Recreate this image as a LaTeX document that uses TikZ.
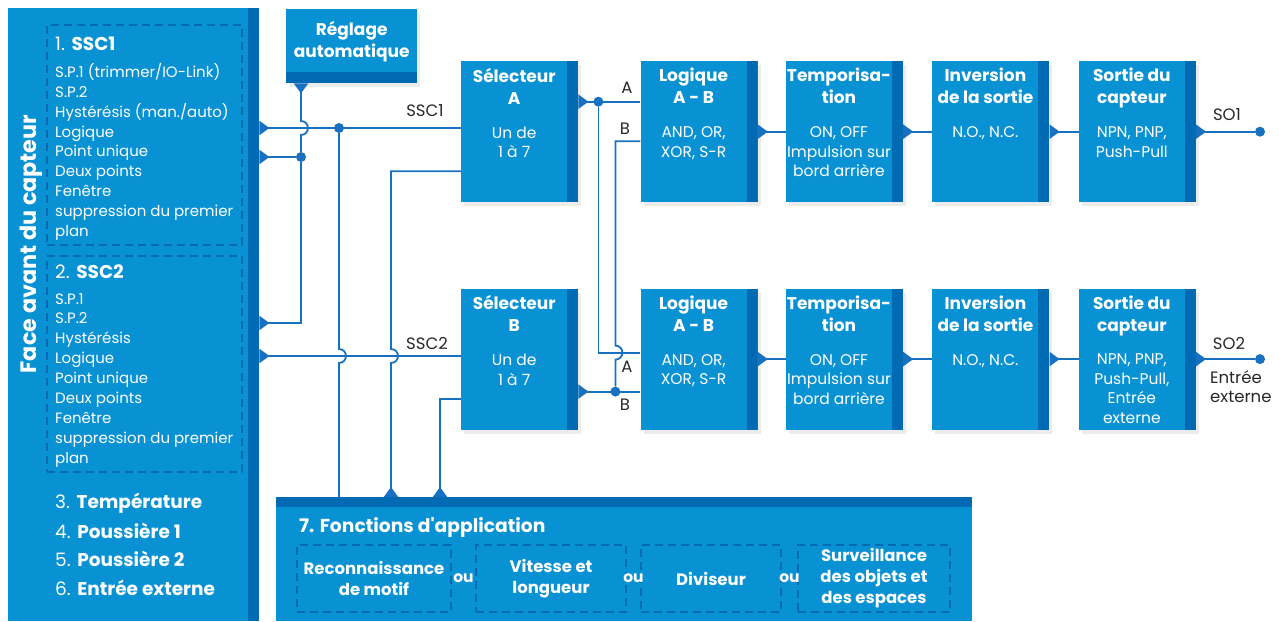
\documentclass[tikz,border=0pt]{standalone}
\usepackage{fontspec}
\setmainfont{Poppins}
\usetikzlibrary{
  arrows.meta,
  positioning,
  calc,
  shadows
}
\definecolor{capblue}{RGB}{8,146,211}
\definecolor{capdark}{RGB}{0,106,178}
\definecolor{capwire}{RGB}{24,113,192}
\definecolor{capink}{RGB}{40,40,40}
\tikzset{
  panel/.style={
    rectangle, fill=capblue, inner sep=0pt,
    path picture={\fill[capdark] ([xshift=-11pt]path picture bounding box.north east)
      rectangle (path picture bounding box.south east);}
  },
  fbox/.style={
    panel, minimum width=117pt, minimum height=141pt,
    drop shadow={opacity=0.15, shadow xshift=3pt, shadow yshift=-4pt}
  },
  regbox/.style={
    rectangle, fill=capblue, inner sep=0pt,
    drop shadow={opacity=0.15, shadow xshift=3pt, shadow yshift=-4pt},
    path picture={\fill[capdark] ([yshift=11pt]path picture bounding box.south west)
      rectangle (path picture bounding box.south east);}
  },
  appbox/.style={
    rectangle, fill=capblue, inner sep=0pt,
    path picture={\fill[capdark] (path picture bounding box.north west)
      rectangle ([yshift=-10pt]path picture bounding box.north east);}
  },
  ttl/.style={text=white, font=\fontsize{17}{22}\selectfont\bfseries,
    align=center, inner sep=0pt, anchor=north},
  txt/.style={text=white, font=\fontsize{15.5}{19.5}\selectfont,
    align=center, inner sep=0pt, anchor=north},
  lst/.style={text=white, font=\fontsize{15}{19.9}\selectfont,
    align=left, inner sep=0pt, anchor=north west},
  hdr/.style={text=white, font=\fontsize{18.5}{20}\selectfont,
    inner sep=0pt, anchor=west},
  grp/.style={draw=capdark, line width=1.6pt, dash pattern=on 8pt off 5pt,
    inner sep=0pt, outer sep=0pt, anchor=north west},
  fopt/.style={grp, anchor=center, minimum height=67pt, text=white,
    font=\fontsize{16.5}{21}\selectfont\bfseries, align=center},
  ou/.style={text=white, font=\fontsize{15.5}{18}\selectfont\bfseries, inner sep=0pt},
  lbl/.style={text=capink, font=\fontsize{16.5}{19.5}\selectfont, inner sep=0pt},
  wire/.style={draw=capwire, line width=1.8pt},
  feed/.style={wire, {Triangle[reversed, length=10pt, width=14pt]}-},
  dot/.style={circle, fill=capwire, minimum size=10pt, inner sep=0pt}
}

\begin{document}
\begin{tikzpicture}[x=1pt, y=-1pt]
  \useasboundingbox (0,0) rectangle (1279,621);

  % sensor front face
  \node[panel, anchor=north west, minimum width=251pt, minimum height=613pt] (face) at (8,8) {};
  \node[rotate=90, text=white, font=\fontsize{22.3}{24}\selectfont\bfseries, inner sep=0pt]
    (facet) at (31,244) {Face avant du capteur};
  \node[grp, minimum width=195pt, minimum height=220pt] (grp1) at (47,25) {};
  \node[grp, minimum width=195pt, minimum height=216pt] (grp2) at (47,256) {};
  \node[hdr] (h1) at (55,44) {1. \textbf{SSC1}};
  \node[lst] (l1) at (55,63) {S.P.1 (trimmer/IO-Link)\\S.P.2\\Hystérésis (man./auto)\\Logique\\
    Point unique\\Deux points\\Fenêtre\\suppression du premier\\plan};
  \node[hdr] (h2) at (55,272) {2. \textbf{SSC2}};
  \node[lst] (l2) at (55,293) {S.P.1\\S.P.2\\Hystérésis\\Logique\\
    Point unique\\Deux points\\Fenêtre\\suppression du premier\\plan};
  \node[hdr] (h3) at (55,503) {3. \textbf{Température}};
  \node[hdr] (h4) at (55,531) {4. \textbf{Poussière 1}};
  \node[hdr] (h5) at (55,559) {5. \textbf{Poussière 2}};
  \node[hdr] (h6) at (55,588) {6. \textbf{Entrée externe}};

  \node[regbox, anchor=north west, minimum width=131pt, minimum height=74pt] (reg) at (286,9) {};
  \node[ttl, anchor=center] (regt) at ([yshift=5pt]reg.center) {Réglage\\automatique};

  % function blocks
  \node[fbox, anchor=north west] (sela) at (461,61) {};
  \node[fbox, right=62pt of sela] (loga) {};
  \node[fbox, right=28pt of loga] (tempa) {};
  \node[fbox, right=29pt of tempa] (inva) {};
  \node[fbox, right=29pt of inva] (outa) {};
  \node[fbox, below=86pt of sela] (selb) {};
  \node[fbox, below=86pt of loga] (logb) {};
  \node[fbox, below=86pt of tempa] (tempb) {};
  \node[fbox, below=86pt of inva] (invb) {};
  \node[fbox, below=86pt of outa] (outb) {};

  \node[ttl] (selat) at ([xshift=-5.5pt,yshift=-7pt]sela.north) {Sélecteur\\A};
  \node[txt] (selax) at ([xshift=-5.5pt,yshift=-65.5pt]sela.north) {Un de\\1 à 7};
  \node[ttl] (logat) at ([xshift=-5.5pt,yshift=-7pt]loga.north) {Logique\\A - B};
  \node[txt] (logax) at ([xshift=-5.5pt,yshift=-65.5pt]loga.north) {AND, OR,\\XOR, S-R};
  \node[ttl] (tempat) at ([xshift=-5.5pt,yshift=-7pt]tempa.north) {Temporisa-\\tion};
  \node[txt] (tempax) at ([xshift=-5.5pt,yshift=-65.5pt]tempa.north) {ON, OFF\\Impulsion sur\\bord arrière};
  \node[ttl] (invat) at ([xshift=-5.5pt,yshift=-7pt]inva.north) {Inversion\\de la sortie};
  \node[txt] (invax) at ([xshift=-5.5pt,yshift=-65.5pt]inva.north) {N.O., N.C.};
  \node[ttl] (outat) at ([xshift=-5.5pt,yshift=-7pt]outa.north) {Sortie du\\capteur};
  \node[txt] (outax) at ([xshift=-5.5pt,yshift=-65.5pt]outa.north) {NPN, PNP,\\Push-Pull};

  \node[ttl] (selbt) at ([xshift=-5.5pt,yshift=-7pt]selb.north) {Sélecteur\\B};
  \node[txt] (selbx) at ([xshift=-5.5pt,yshift=-65.5pt]selb.north) {Un de\\1 à 7};
  \node[ttl] (logbt) at ([xshift=-5.5pt,yshift=-7pt]logb.north) {Logique\\A - B};
  \node[txt] (logbx) at ([xshift=-5.5pt,yshift=-65.5pt]logb.north) {AND, OR,\\XOR, S-R};
  \node[ttl] (tempbt) at ([xshift=-5.5pt,yshift=-7pt]tempb.north) {Temporisa-\\tion};
  \node[txt] (tempbx) at ([xshift=-5.5pt,yshift=-65.5pt]tempb.north) {ON, OFF\\Impulsion sur\\bord arrière};
  \node[ttl] (invbt) at ([xshift=-5.5pt,yshift=-7pt]invb.north) {Inversion\\de la sortie};
  \node[txt] (invbx) at ([xshift=-5.5pt,yshift=-65.5pt]invb.north) {N.O., N.C.};
  \node[ttl] (outbt) at ([xshift=-5.5pt,yshift=-7pt]outb.north) {Sortie du\\capteur};
  \node[txt] (outbx) at ([xshift=-5.5pt,yshift=-65.5pt]outb.north) {NPN, PNP,\\Push-Pull,\\Entrée\\externe};

  % application functions
  \node[appbox, anchor=north west, minimum width=696pt, minimum height=124pt] (fapp) at (276,497) {};
  \node[ttl, anchor=west, font=\fontsize{18.7}{20}\selectfont\bfseries] (fappt) at (299,527)
    {7. Fonctions d\textquotesingle application};
  \node[fopt, minimum width=154pt] (fo1) at (374,578.5) {Reconnaissance\\de motif};
  \node[fopt, minimum width=150pt, right=25pt of fo1] (fo2) {Vitesse et\\longueur};
  \node[fopt, minimum width=140pt, right=15pt of fo2] (fo3) {Diviseur};
  \node[fopt, minimum width=152pt, right=17pt of fo3] (fo4) {Surveillance\\des objets et\\des espaces};
  \node[ou] (ou1) at ($(fo1.east)!0.5!(fo2.west)$) {ou};
  \node[ou] (ou2) at ($(fo2.east)!0.5!(fo3.west)$) {ou};
  \node[ou] (ou3) at ($(fo3.east)!0.5!(fo4.west)$) {ou};

  % junctions
  \node[dot] (d1) at (339,128) {};
  \node[dot] (d2) at (301,157) {};
  \node[dot] (d3) at ([xshift=20pt,yshift=30pt]sela.east) {};
  \node[dot] (d4) at ([xshift=37pt,yshift=-32.5pt]selb.east) {};
  \node[dot] (so1) at ([xshift=64pt]outa.east) {};
  \node[dot] (so2) at ([xshift=64pt]outb.east) {};
  \coordinate (s2) at (face.east |- 0,356);
  \coordinate (x1) at (391,0);
  \coordinate (x2) at (440,0);
  \coordinate (ain) at ([yshift=6.5pt]logb.west);

  % wiring
  \draw[feed] (face.east |- d1) -- (sela.west |- d1);
  \draw[feed] (face.east |- d2) -- (d2);
  \draw[feed] (reg.south -| d2) -- ([yshift=7pt]d2 |- d1) arc[start angle=90, end angle=-90, radius=7pt] -- (d2);
  \draw[feed] (face.east |- 0,323) -| (d2);
  \draw[feed] (s2) -- (selb.west |- s2);
  \draw[wire] (d1) -- ([yshift=7pt]d1 |- s2) arc[start angle=90, end angle=-90, radius=7pt] -- (d1 |- fapp.north);
  \draw[feed] (fapp.north -| x1) -- ([yshift=-7pt]x1 |- s2) arc[start angle=-90, end angle=90, radius=7pt]
    |- ([yshift=-39.5pt]sela.west);
  \draw[feed] (fapp.north -| x2) |- ([yshift=-39.5pt]selb.west);

  \draw[feed] (sela.east |- d3) -- (loga.west |- d3);
  \draw[feed] (selb.east |- d4) -- (logb.west |- d4);
  \draw[wire] (d3) |- (ain);
  \draw[wire] ([yshift=-9.5pt]loga.west) -| ([yshift=7pt]d4 |- ain) arc[start angle=90, end angle=-90, radius=7pt] -- (d4);

  \draw[feed] (loga) -- (tempa);
  \draw[feed] (tempa) -- (inva);
  \draw[feed] (inva) -- (outa);
  \draw[feed] (outa) -- (so1);
  \draw[feed] (logb) -- (tempb);
  \draw[feed] (tempb) -- (invb);
  \draw[feed] (invb) -- (outb);
  \draw[feed] (outb) -- (so2);

  % labels
  \node[lbl] (ssc1l) at (425,111) {SSC1};
  \node[lbl] (ssc2l) at (427,343) {SSC2};
  \node[lbl] (la1) at (627,88) {A};
  \node[lbl] (lb1) at (625,129) {B};
  \node[lbl] (la2) at (627,367) {A};
  \node[lbl] (lb2) at (625,405) {B};
  \node[lbl] (so1l) at (1227,115) {SO1};
  \node[lbl] (so2l) at (1229,343) {SO2};
  \node[lbl, align=left, anchor=north west] (extl) at (1210,370) {Entrée\\externe};
\end{tikzpicture}
\end{document}
